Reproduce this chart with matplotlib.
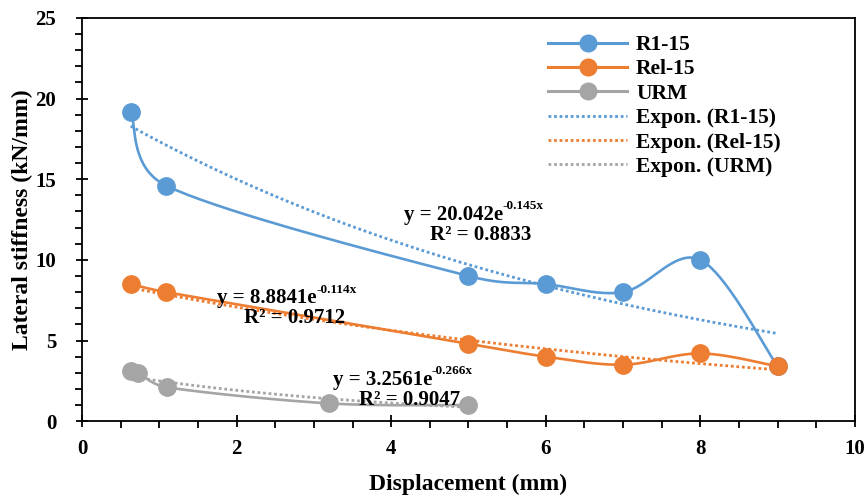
import numpy as np
import matplotlib
matplotlib.use("Agg")
import matplotlib.pyplot as plt
from matplotlib.ticker import MultipleLocator

plt.rcParams["font.family"] = ["Liberation Serif", "DejaVu Serif"]
plt.rcParams["font.weight"] = "bold"

# measured stiffness per displacement
r1_x = [0.63, 1.09, 5.0, 6.0, 7.0, 8.0, 9.0]
r1_y = [19.2, 14.6, 9.0, 8.5, 8.0, 10.0, 3.4]
rel_x = [0.63, 1.09, 5.0, 6.0, 7.0, 8.0, 9.0]
rel_y = [8.5, 8.0, 4.8, 4.0, 3.5, 4.2, 3.4]
urm_x = [0.63, 0.72, 1.1, 3.2, 5.0]
urm_y = [3.1, 3.0, 2.1, 1.1, 1.0]

# exponential trendlines as printed on the chart: (a, b, R2)
r1_fit = (20.042, -0.145, 0.8833)
rel_fit = (8.8841, -0.114, 0.9712)
urm_fit = (3.2561, -0.266, 0.9047)

BLUE, ORANGE, GREY = "#5B9BD5", "#ED7D31", "#A5A5A5"
SX, SY = 77.3, 16.12     # px per data unit, used to smooth in screen space


def smooth(x, y, n=40):
    """Bezier curve through the points, control points like Excel's smoothed line."""
    p = np.column_stack([np.asarray(x) * SX, np.asarray(y) * SY]).astype(float)
    ext = np.vstack([p[0], p, p[-1]])
    t = np.linspace(0, 1, n)[:, None]
    segs = []
    for i in range(len(p) - 1):
        p0, p1 = p[i], p[i + 1]
        L = np.hypot(*(p1 - p0))
        v1 = (ext[i + 2] - ext[i]) / 6
        v2 = (ext[i + 3] - ext[i + 1]) / 6
        for v in (v1, v2):
            nv = np.hypot(*v)
            if nv > L / 2:
                v *= (L / 2) / nv
        c1, c2 = p0 + v1, p1 - v2
        segs.append((1 - t)**3 * p0 + 3 * (1 - t)**2 * t * c1 + 3 * (1 - t) * t**2 * c2 + t**3 * p1)
    s = np.vstack(segs)
    return s[:, 0] / SX, s[:, 1] / SY


fig = plt.figure(figsize=(8.67, 4.99), dpi=100)
ax = fig.add_axes([0.0946, 0.156, 0.8915, 0.808])

series = [("R1-15", r1_x, r1_y, BLUE), ("Rel-15", rel_x, rel_y, ORANGE), ("URM", urm_x, urm_y, GREY)]
for name, xs, ys, c in series:
    sx, sy = smooth(xs, ys)
    ax.plot(sx, sy, color=c, lw=1.9, zorder=3)
    ax.plot(xs, ys, "o", color=c, ms=12.5, zorder=4)
    ax.plot([], [], "-o", color=c, lw=2.2, ms=12, label=name)

for name, xs, fit, c in [("R1-15", r1_x, r1_fit, BLUE), ("Rel-15", rel_x, rel_fit, ORANGE),
                         ("URM", urm_x, urm_fit, GREY)]:
    xx = np.linspace(min(xs), max(xs), 100)
    ax.plot(xx, fit[0] * np.exp(fit[1] * xx), ls=(0, (1, 1)), color=c, lw=2.0, zorder=2,
            label=f"Expon. ({name})")


def px2x(px):
    return (px - 82) / SX


# (fit, centre x in px, y between the two lines)
labels = [(r1_fit, 481, 12.1), (rel_fit, 295, 6.9), (urm_fit, 410, 1.86)]
for fit, xp, yv in labels:
    base = ax.annotate(f"y = {fit[0]}e", xy=(px2x(xp), yv), xytext=(-20, 1),
                       textcoords="offset points", ha="center", va="bottom",
                       fontsize=15, fontweight="bold", zorder=5)
    ax.annotate(f"{fit[1]}x", xy=(1, 0.62), xycoords=base, ha="left", va="bottom",
                fontsize=9.5, fontweight="bold", zorder=5)
    ax.annotate(f"R² = {fit[2]:.4f}", xy=(px2x(xp), yv), xytext=(0, 1),
                textcoords="offset points", ha="center", va="top", fontsize=15,
                fontweight="bold", zorder=5)

ax.set_xlim(0, 10)
ax.set_ylim(0, 25)
ax.xaxis.set_major_locator(MultipleLocator(2))
ax.xaxis.set_minor_locator(MultipleLocator(0.5))
ax.yaxis.set_major_locator(MultipleLocator(5))
ax.yaxis.set_minor_locator(MultipleLocator(1))
ax.tick_params(which="major", direction="inout", length=9, width=1.3, labelsize=15)
ax.tick_params(which="minor", direction="out", length=5, width=1.3)
ax.tick_params(axis="x", pad=8)
ax.tick_params(axis="y", pad=14)
for lbl in ax.get_xticklabels() + ax.get_yticklabels():
    lbl.set_fontweight("bold")
for sp in ax.spines.values():
    sp.set_linewidth(1.3)

ax.set_xlabel("Displacement (mm)", fontsize=17, fontweight="bold", labelpad=11)
ax.set_ylabel("Lateral stiffness (kN/mm)", fontsize=17, fontweight="bold", labelpad=2)

leg = ax.legend(loc="upper left", bbox_to_anchor=(0.583, 0.995), frameon=False, fontsize=15.5,
                handlelength=3.7, labelspacing=0.2, handletextpad=0.4, borderpad=0.2)

fig.savefig("out.png", dpi=100)
